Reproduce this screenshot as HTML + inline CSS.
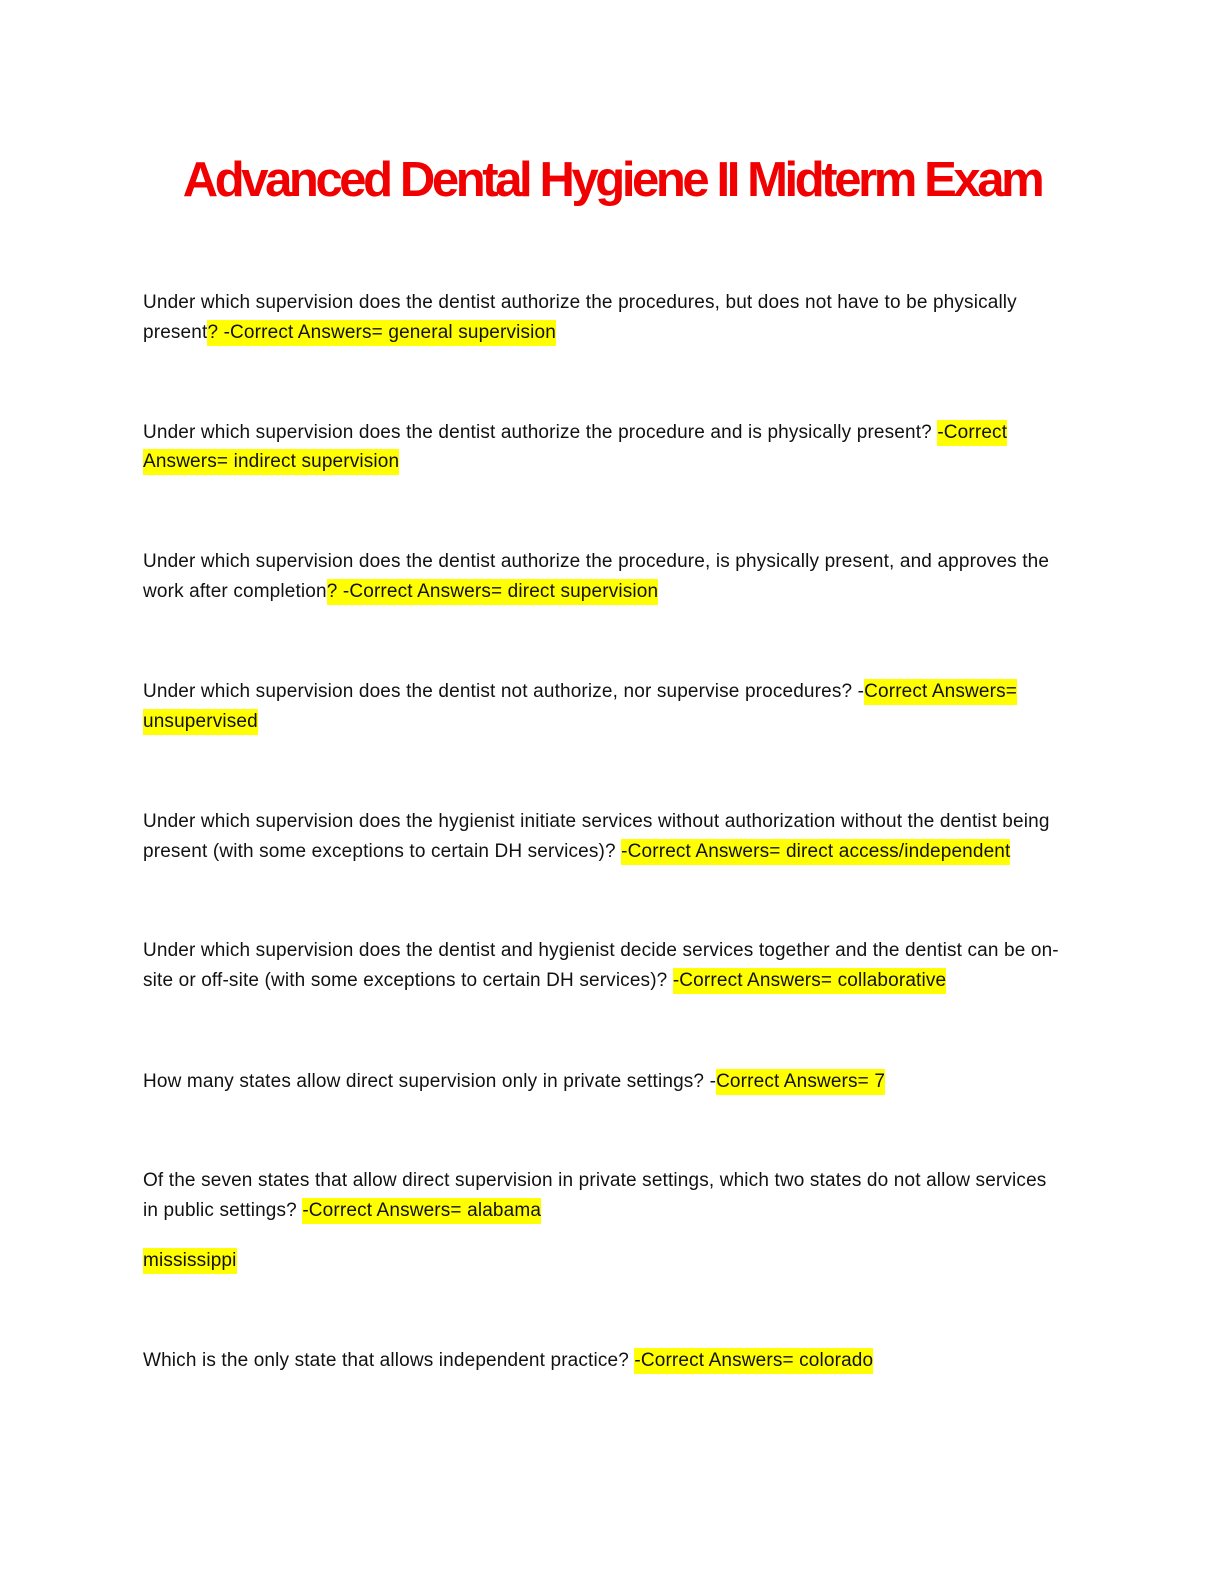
<!DOCTYPE html>
<html><head><meta charset="utf-8"><style>
body{margin:0;background:#fff;}
.page{position:relative;width:1224px;height:1584px;overflow:hidden;font-family:"Liberation Sans",sans-serif;}
h1{position:absolute;top:150px;left:0;width:1224px;margin:0;text-align:center;color:#f00000;font-size:49px;font-weight:bold;letter-spacing:-3.4px;line-height:60px;}
.l{position:absolute;left:143px;white-space:nowrap;font-size:19px;letter-spacing:0.15px;color:#111;line-height:26px;height:26px;}
.h{background:#ffff00;display:inline-block;height:26px;}
</style></head><body><div class="page">
<h1>Advanced Dental Hygiene II Midterm Exam</h1>
<div class="l" style="top:290px">Under which supervision does the dentist authorize the procedures, but does not have to be physically</div>
<div class="l" style="top:320px">present<span class="h">? -Correct Answers= general supervision</span></div>
<div class="l" style="top:420px">Under which supervision does the dentist authorize the procedure and is physically present? <span class="h">-Correct</span></div>
<div class="l" style="top:449px"><span class="h">Answers= indirect supervision</span></div>
<div class="l" style="top:549px">Under which supervision does the dentist authorize the procedure, is physically present, and approves the</div>
<div class="l" style="top:579px">work after completion<span class="h">? -Correct Answers= direct supervision</span></div>
<div class="l" style="top:679px">Under which supervision does the dentist not authorize, nor supervise procedures? -<span class="h">Correct Answers=</span></div>
<div class="l" style="top:709px"><span class="h">unsupervised</span></div>
<div class="l" style="top:809px">Under which supervision does the hygienist initiate services without authorization without the dentist being</div>
<div class="l" style="top:839px">present (with some exceptions to certain DH services)? <span class="h">-Correct Answers= direct access/independent</span></div>
<div class="l" style="top:938px">Under which supervision does the dentist and hygienist decide services together and the dentist can be on-</div>
<div class="l" style="top:968px">site or off-site (with some exceptions to certain DH services)? <span class="h">-Correct Answers= collaborative</span></div>
<div class="l" style="top:1069px">How many states allow direct supervision only in private settings? -<span class="h">Correct Answers= 7</span></div>
<div class="l" style="top:1168px">Of the seven states that allow direct supervision in private settings, which two states do not allow services</div>
<div class="l" style="top:1198px">in public settings? <span class="h">-Correct Answers= alabama</span></div>
<div class="l" style="top:1248px"><span class="h">mississippi</span></div>
<div class="l" style="top:1348px">Which is the only state that allows independent practice? <span class="h">-Correct Answers= colorado</span></div>
</div></body></html>
